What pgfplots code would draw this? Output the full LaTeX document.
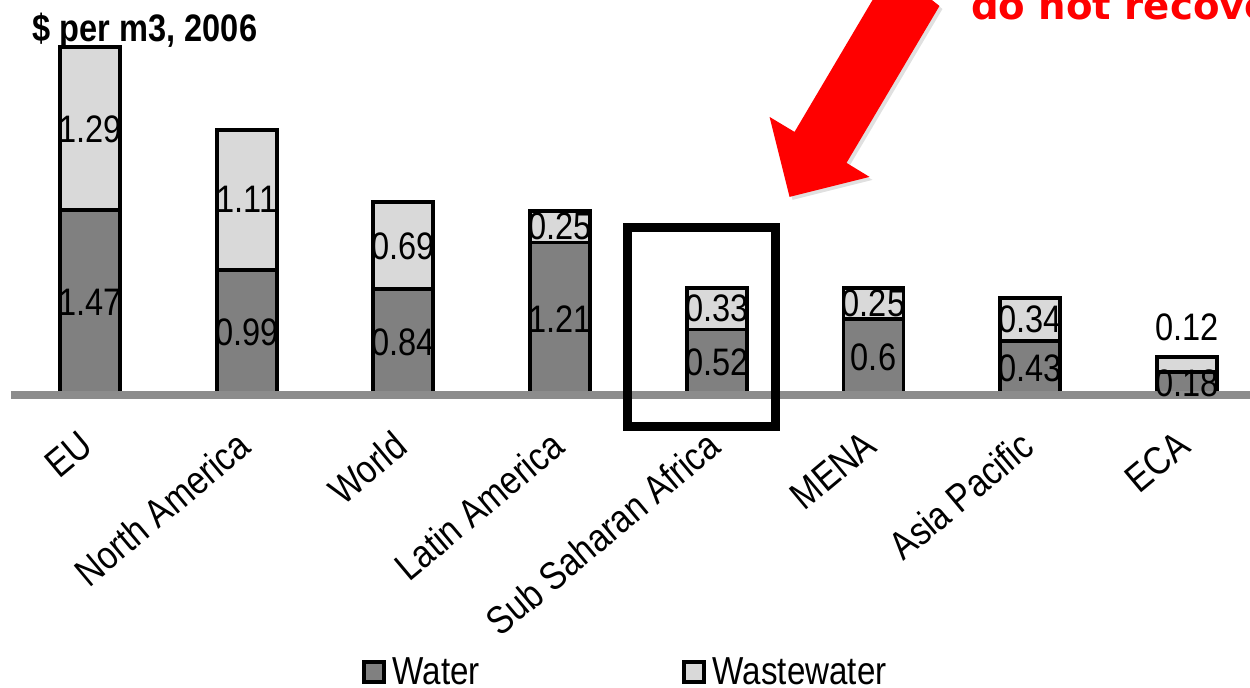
\documentclass[border=0pt]{standalone}
\usepackage{fontspec}
\setmainfont[FakeStretch=0.85]{Liberation Sans}
\newfontfamily\redfam{DejaVu Sans}
\usepackage{graphicx}
\usepackage{pgfplots}
\pgfplotsset{compat=1.18}
\definecolor{waterc}{HTML}{808080}
\definecolor{wastec}{HTML}{D9D9D9}
\definecolor{basec}{HTML}{8C8C8C}
\newcommand{\valfont}{\fontsize{10.9pt}{12pt}\selectfont}
\newcommand{\tickfont}{\fontsize{11.2pt}{12pt}\selectfont}
\newcommand{\legfont}{\fontsize{11.1pt}{13pt}\selectfont}
\newcommand{\titlefont}{\fontsize{10.9pt}{12pt}\selectfont\bfseries}
\begin{document}
\begin{tikzpicture}
\useasboundingbox (0,0) rectangle (12.5cm,6.88cm);
\pgfplotsset{base/.style={at={(0,0)}, anchor=south west, scale only axis,
  width=12.5cm, height=6.88cm, xmin=-0.57435, xmax=7.40268, ymin=-2.3254, ymax=3.1349, clip=false}}
\begin{axis}[base, ybar stacked, bar width=0.6cm,
  axis x line=middle, axis y line=none, axis line style={draw=none},
  xtick={0,...,7},
  xticklabels={EU, North America, World, Latin America, Sub Saharan Africa, MENA, Asia Pacific, ECA},
  major tick length=0pt, hide obscured x ticks=false, ytick=\empty,
  xticklabel style={font=\tickfont, anchor=north east, inner sep=0pt, yshift=-0.33cm, xshift=-0.12cm, rotate=40},
  legend style={at={(rel axis cs:0.2888,0.0203)}, anchor=west, draw=none, fill=none, inner sep=0pt,
    legend columns=2, font=\legfont, /tikz/every even column/.append style={column sep=1.95cm}},
  legend image code/.code={\draw[#1] (0cm,-0.08cm) rectangle (0.2cm,0.12cm);},
]
\addplot[fill=waterc, draw=black, line width=1.1pt] coordinates {
  (0,1.47) (1,0.99) (2,0.84) (3,1.21) (4,0.52) (5,0.6) (6,0.43) (7,0.18)};
\addplot[fill=wastec, draw=black, line width=1.1pt] coordinates {
  (0,1.29) (1,1.11) (2,0.69) (3,0.25) (4,0.33) (5,0.25) (6,0.34) (7,0.12)};
\legend{Water, Wastewater}
\end{axis}
\begin{scope}[shift={(0cm,6.88cm)}, x=0.01cm, y=-0.01cm]
\draw[basec, line width=0.08cm] (11,395.5) -- (1260,395.5);
\end{scope}
\begin{axis}[base, hide axis]
\addplot[draw=none, mark=none, nodes near coords={\pgfplotspointmeta}, point meta=explicit symbolic,
  every node near coord/.append style={font=\valfont, anchor=center, inner sep=0pt, text=black}]
  table[meta=lab] {
x y lab
0 0.735 1.47
1 0.500 0.99
2 0.420 0.84
3 0.600 1.21
4 0.260 0.52
5 0.300 0.6
6 0.215 0.43
7 0.090 0.18
0 2.110 1.29
1 1.550 1.11
2 1.180 0.69
3 1.335 0.25
4 0.685 0.33
5 0.725 0.25
6 0.600 0.34
7 0.540 0.12
};
\end{axis}
\begin{scope}[shift={(0cm,6.88cm)}, x=0.01cm, y=-0.01cm]
\draw[line width=0.09cm] (627.5,227.5) rectangle (776,427);
\fill[black!12] (895,-29) -- (798,135) -- (773,120) -- (793,200) -- (873,180) -- (850,166) -- (943,9) -- cycle;
\fill[red] (892,-32) -- (795,132) -- (770,117) -- (790,197) -- (870,177) -- (847,163) -- (940,6) -- cycle;
\node[anchor=base west, inner sep=0pt, text=red, font=\redfam\bfseries\fontsize{11pt}{13pt}\selectfont] at (971,20) {do not recover costs};
\node[anchor=base west, inner sep=0pt, font=\titlefont] at (32,42) {\$ per m3, 2006};
\end{scope}
\end{tikzpicture}
\end{document}
